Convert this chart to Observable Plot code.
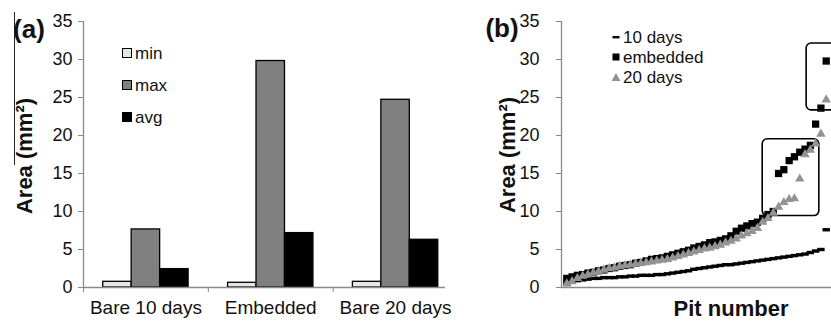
<!DOCTYPE html>
<html>
<head>
<meta charset="utf-8">
<script src="https://cdn.jsdelivr.net/npm/d3@7"></script>
<script src="https://cdn.jsdelivr.net/npm/@observablehq/plot@0.6"></script>
<style>
  html, body { margin: 0; padding: 0; background: #fff; overflow: hidden; }
  #root { position: relative; width: 831px; height: 323px; overflow: hidden; font-family: "Liberation Sans", Arial, sans-serif; color: #111; }
  .abs { position: absolute; }
  .vlabel { position: absolute; transform: translate(-50%, -50%) rotate(-90deg); white-space: nowrap; font-weight: bold; font-size: 22px; line-height: 1; }
  .hlabel { position: absolute; transform: translate(-50%, -50%); white-space: nowrap; font-weight: bold; line-height: 1; }
  .leg { position: absolute; display: flex; align-items: center; font-size: 17px; line-height: 1; white-space: nowrap; }
</style>
</head>
<body>
<div id="root"></div>
<script>
// ---------- Panel (a) data ----------
const categories = ["Bare 10 days", "Embedded", "Bare 20 days"];
const stats = ["min", "max", "avg"];
const minArea = [0.75, 0.62, 0.75];
const maxArea = [7.64, 29.8, 24.7];
const avgArea = [2.42, 7.16, 6.28];
const yTicks = [0, 5, 10, 15, 20, 25, 30, 35];

// ---------- Panel (b) data (pit areas sorted, mm²) ----------
const series = ["10 days", "embedded", "20 days"];
const tenDays = [0.5, 0.7, 0.9, 1.0, 1.1, 1.2, 1.2, 1.3, 1.3, 1.3, 1.4, 1.4, 1.5, 1.5, 1.6, 1.6, 1.6, 1.7, 1.7, 1.8,
  1.9, 2.0, 2.1, 2.2, 2.4, 2.5, 2.6, 2.7, 2.8, 2.9, 3.0, 3.0, 3.1, 3.2, 3.3, 3.4, 3.5, 3.6, 3.7, 3.8,
  3.9, 4.0, 4.1, 4.2, 4.3, 4.4, 4.6, 4.8, 5.0, 7.6];
const embedded = [1.2, 1.4, 1.6, 1.7, 1.9, 2.0, 2.2, 2.3, 2.5, 2.6, 2.8, 2.9, 3.0, 3.2, 3.3, 3.5, 3.7, 3.8, 3.9, 4.1,
  4.3, 4.5, 4.7, 4.9, 5.2, 5.4, 5.6, 5.9, 6.0, 6.2, 6.4, 6.8, 7.4, 7.8, 8.1, 8.4, 8.6, 9.1, 9.6, 10.0,
  15.0, 15.5, 16.7, 17.2, 17.8, 18.2, 18.7, 21.5, 23.6, 29.8];
const twentyDays = [0.5, 0.8, 1.2, 1.5, 1.7, 1.9, 2.1, 2.3, 2.5, 2.6, 2.8, 2.9, 3.0, 3.1, 3.2, 3.3, 3.4, 3.5, 3.6, 3.7,
  3.9, 4.1, 4.3, 4.5, 4.7, 4.9, 5.1, 5.2, 5.4, 5.6, 5.9, 6.1, 6.4, 6.8, 7.1, 7.4, 7.8, 8.6, 9.1, 9.8,
  10.6, 11.2, 11.6, 11.7, 14.3, 17.5, 18.1, 18.9, 20.2, 24.7];
// highlight boxes (data coordinates: pit index, area), one entry per box
const boxPitStart = [38.0, 46.3];
const boxPitEnd = [48.7, 53.5];
const boxAreaLow = [9.4, 23.3];
const boxAreaHigh = [19.5, 32.1];

// ---------- styles ----------
const statColors = ["#e6e6e6", "#808080", "#000000"];
const triGray = "#939393";
const axisGray = "#8a8a8a";
const font = "'Liberation Sans', Arial, sans-serif";

const root = document.getElementById("root");

// ---------- Panel (a) ----------
const barRows = categories.flatMap((c, i) =>
  stats.map((s, j) => ({cat: c, ci: i, stat: s, sj: j, value: [minArea, maxArea, avgArea][j][i]})));
const bw = 0.228; // bar width as a fraction of one category span

const plotA = Plot.plot({
  width: 446,
  height: 323,
  marginLeft: 83,
  marginRight: 1,
  marginTop: 21,
  marginBottom: 36,
  style: {fontFamily: font, fontSize: "18px", color: "#111", background: "transparent", overflow: "visible"},
  x: {type: "linear", domain: [0, 2.9]},
  y: {domain: [0, 35]},
  color: {type: "ordinal", domain: stats, range: statColors},
  marks: [
    Plot.rectY(barRows, {
      x1: d => d.ci + 0.5 + (d.sj - 1.5) * bw,
      x2: d => d.ci + 0.5 + (d.sj - 0.5) * bw,
      y1: 0, y2: "value", fill: "stat", stroke: "#000", strokeWidth: 1.3
    }),
    Plot.ruleX([0], {stroke: axisGray, strokeWidth: 1.3}),
    Plot.ruleY([0], {stroke: axisGray, strokeWidth: 1.3}),
    Plot.axisY({ticks: yTicks, tickSize: 5, tickPadding: 6, stroke: axisGray, fill: "#111", fontSize: 18, label: null}),
    Plot.axisX({ticks: [0, 1, 2], tickSize: 5, tickFormat: () => "", stroke: axisGray, label: null}),
    Plot.axisX({ticks: [0.5, 1.5, 2.5], tickSize: 0, tickPadding: 13, tickFormat: v => categories[Math.floor(v)],
      fill: "#111", fontSize: 19, label: null})
  ]
});
plotA.style.position = "absolute";
plotA.style.left = "0px";
plotA.style.top = "0px";
root.appendChild(plotA);

// ---------- Panel (b) ----------
const pts = (arr, name) => arr.map((v, i) => ({pit: i + 1, area: v, series: name}));
const dashSymbol = {
  draw(context, size) {
    const r = Math.sqrt(size / Math.PI);
    context.rect(-r * 1.2, -r * 0.55, r * 2.4, r * 1.1);
  }
};
const boxes = boxPitStart.map((x1, k) => ({x1, x2: boxPitEnd[k], y1: boxAreaLow[k], y2: boxAreaHigh[k]}));

const plotB = Plot.plot({
  width: 351,
  height: 323,
  marginLeft: 81,
  marginRight: 0,
  marginTop: 21,
  marginBottom: 36,
  style: {fontFamily: font, fontSize: "18px", color: "#111", background: "transparent", overflow: "visible"},
  x: {type: "linear", domain: [0, 51]},
  y: {domain: [0, 35]},
  marks: [
    Plot.rect(boxes, {x1: "x1", x2: "x2", y1: "y1", y2: "y2", rx: 5, fill: "none", stroke: "#000", strokeWidth: 1.6}),
    Plot.dot(pts(tenDays, series[0]), {x: "pit", y: "area", symbol: dashSymbol, r: 3.1, fill: "#000", stroke: "none"}),
    Plot.dot(pts(embedded, series[1]), {x: "pit", y: "area", symbol: "square", r: 4.1, fill: "#000", stroke: "none"}),
    Plot.dot(pts(twentyDays, series[2]), {x: "pit", y: "area", symbol: "triangle", r: 3.5, fill: triGray, stroke: "none"}),
    Plot.ruleX([0], {stroke: axisGray, strokeWidth: 1.3}),
    Plot.ruleY([0], {stroke: axisGray, strokeWidth: 1.3}),
    Plot.axisY({ticks: yTicks, tickSize: 5, tickPadding: 17, stroke: axisGray, fill: "#111", fontSize: 18, label: null}),
    Plot.axisX({ticks: [], label: null})
  ]
});
plotB.style.position = "absolute";
plotB.style.left = "480px";
plotB.style.top = "0px";
root.appendChild(plotB);

// ---------- Text: panel letters, axis titles ----------
function addDiv(cls, html, left, top, extra) {
  const d = document.createElement("div");
  d.className = cls;
  d.innerHTML = html;
  d.style.left = left + "px";
  d.style.top = top + "px";
  if (extra) Object.assign(d.style, extra);
  root.appendChild(d);
  return d;
}
addDiv("hlabel", "(a)", 29, 29, {fontSize: "26px"});
addDiv("hlabel", "(b)", 502, 28, {fontSize: "26px"});
addDiv("vlabel", "Area (mm²)", 25, 156);
addDiv("vlabel", "Area (mm²)", 508, 155);
addDiv("hlabel", "Pit number", 731, 309, {fontSize: "22px"});
// scan artifact line at left of panel (a)
addDiv("abs", "", 14, 12, {width: "1px", height: "153px", background: "#222"});

// ---------- Legend (a) ----------
stats.forEach((s, j) => {
  const y = [53, 85, 117][j];
  addDiv("leg", `<span style="display:inline-block;width:8px;height:8px;border:1px solid #000;background:${statColors[j]};margin-right:3px"></span>${s}`,
    122, y - 9, {height: "18px"});
});

// ---------- Legend (b) ----------
const legSvg = [
  `<svg width="10" height="10"><rect x="1.5" y="4" width="7" height="2.4" fill="#000"/></svg>`,
  `<svg width="10" height="10"><rect x="1.5" y="1.5" width="7" height="7" fill="#000"/></svg>`,
  `<svg width="10" height="10"><path d="M5,1 L9.5,9 L0.5,9 Z" fill="${triGray}"/></svg>`
];
series.forEach((s, j) => {
  const y = [37, 57, 77][j];
  addDiv("leg", `<span style="display:inline-block;width:10px;height:10px;margin-right:2px;line-height:0">${legSvg[j]}</span>${s}`,
    611, y - 9, {height: "18px"});
});
</script>
</body>
</html>
